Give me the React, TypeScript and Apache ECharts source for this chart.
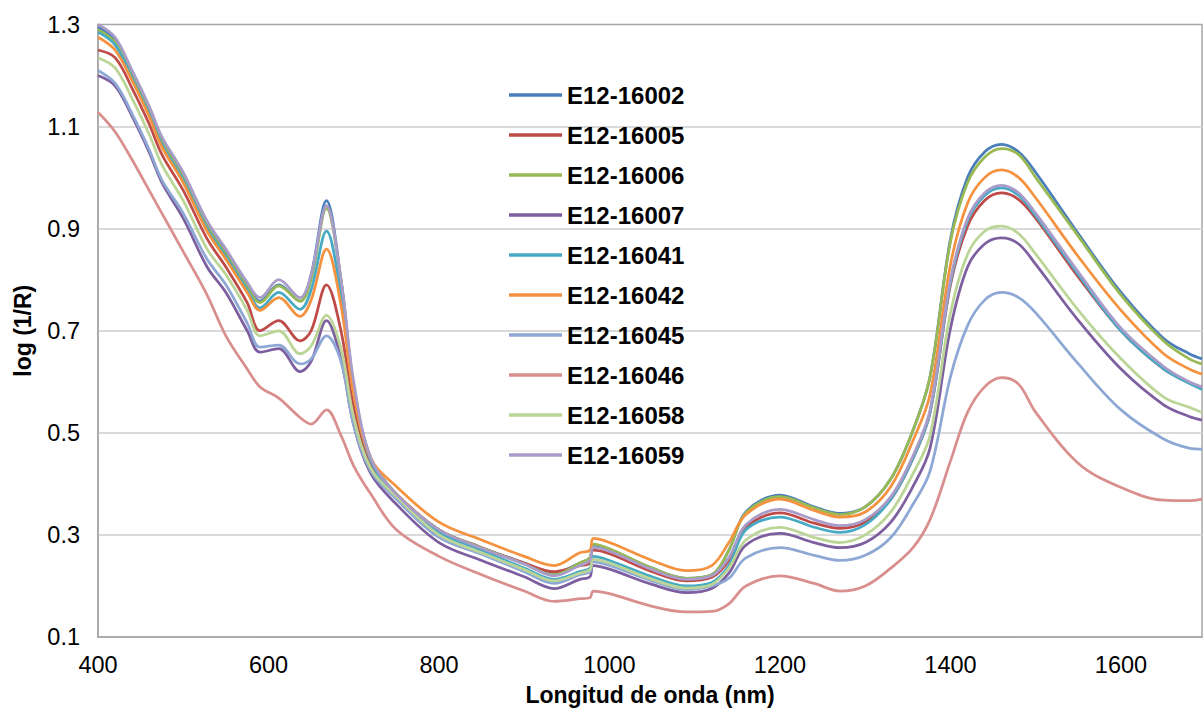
import React, { useEffect, useRef } from "react";
import * as echarts from "echarts";

const wavelengths = [400, 420, 440, 460, 475, 500, 528, 550, 575, 590, 612, 637, 650, 668, 685, 700, 720,
  750, 800, 850, 900, 935, 965, 977, 981, 1000, 1050, 1090, 1120,
  1140, 1160, 1200, 1240, 1270, 1300, 1330, 1356, 1376, 1400, 1420, 1440, 1460, 1480, 1500, 1550, 1600, 1650, 1680, 1695];

const sampleNames = ["E12-16002", "E12-16005", "E12-16006", "E12-16007", "E12-16041", "E12-16042", "E12-16045", "E12-16046", "E12-16058", "E12-16059"];
const sampleColors = ["#4A7EBB", "#BE4B48", "#98B954", "#7D5FA0", "#46AAC5", "#F59240", "#8EA8D5", "#D88F8D", "#BBD596", "#AA9CC8"];

const s16002 = [1.295, 1.27, 1.205, 1.135, 1.075, 1.005, 0.91, 0.855, 0.79, 0.758, 0.79, 0.758, 0.81, 0.955, 0.80, 0.59, 0.45,
  0.38, 0.31, 0.275, 0.245, 0.225, 0.245, 0.255, 0.28, 0.272, 0.235, 0.215, 0.222,
  0.27, 0.345, 0.378, 0.355, 0.342, 0.355, 0.41, 0.505, 0.61, 0.88, 1.0, 1.05, 1.065, 1.05, 1.01, 0.89, 0.775, 0.685, 0.655, 0.645];
const s16005 = [1.25, 1.235, 1.175, 1.105, 1.045, 0.975, 0.88, 0.825, 0.755, 0.70, 0.72, 0.68, 0.70, 0.79, 0.70, 0.55, 0.44,
  0.38, 0.31, 0.275, 0.245, 0.228, 0.24, 0.245, 0.27, 0.263, 0.228, 0.21, 0.217,
  0.25, 0.315, 0.343, 0.323, 0.313, 0.325, 0.37, 0.45, 0.54, 0.79, 0.905, 0.955, 0.97, 0.957, 0.92, 0.805, 0.70, 0.625, 0.598, 0.588];
const s16006 = [1.29, 1.265, 1.2, 1.13, 1.07, 1.0, 0.905, 0.85, 0.785, 0.755, 0.788, 0.758, 0.80, 0.94, 0.80, 0.59, 0.45,
  0.38, 0.31, 0.275, 0.243, 0.222, 0.245, 0.255, 0.282, 0.273, 0.235, 0.215, 0.222,
  0.27, 0.343, 0.375, 0.353, 0.34, 0.355, 0.41, 0.505, 0.61, 0.875, 0.99, 1.04, 1.057, 1.045, 1.0, 0.885, 0.77, 0.68, 0.645, 0.635];
const s16007 = [1.20, 1.18, 1.12, 1.05, 0.99, 0.92, 0.825, 0.775, 0.70, 0.658, 0.665, 0.62, 0.64, 0.72, 0.645, 0.515, 0.42,
  0.36, 0.285, 0.25, 0.218, 0.195, 0.213, 0.218, 0.24, 0.233, 0.203, 0.187, 0.195,
  0.225, 0.28, 0.303, 0.285, 0.275, 0.285, 0.325, 0.395, 0.47, 0.705, 0.825, 0.87, 0.882, 0.87, 0.83, 0.72, 0.625, 0.555, 0.532, 0.525];
const s16041 = [1.285, 1.26, 1.195, 1.125, 1.065, 0.995, 0.9, 0.845, 0.78, 0.745, 0.775, 0.742, 0.78, 0.895, 0.77, 0.58, 0.445,
  0.375, 0.305, 0.27, 0.235, 0.213, 0.228, 0.235, 0.258, 0.25, 0.218, 0.2, 0.207,
  0.24, 0.31, 0.335, 0.315, 0.305, 0.32, 0.37, 0.45, 0.54, 0.795, 0.915, 0.965, 0.98, 0.965, 0.925, 0.81, 0.70, 0.625, 0.597, 0.585];
const s16042 = [1.275, 1.25, 1.19, 1.12, 1.06, 0.99, 0.895, 0.84, 0.775, 0.74, 0.765, 0.728, 0.76, 0.86, 0.75, 0.575, 0.45,
  0.395, 0.325, 0.29, 0.258, 0.24, 0.265, 0.27, 0.293, 0.285, 0.25, 0.23, 0.24,
  0.285, 0.34, 0.37, 0.348, 0.335, 0.345, 0.395, 0.485, 0.575, 0.83, 0.95, 1.0, 1.015, 1.0, 0.96, 0.845, 0.74, 0.655, 0.625, 0.615];
const s16045 = [1.21, 1.185, 1.125, 1.055, 0.995, 0.93, 0.84, 0.79, 0.715, 0.668, 0.672, 0.635, 0.645, 0.69, 0.64, 0.515, 0.425,
  0.37, 0.295, 0.262, 0.228, 0.205, 0.222, 0.228, 0.247, 0.24, 0.21, 0.193, 0.2,
  0.215, 0.255, 0.275, 0.26, 0.25, 0.26, 0.295, 0.36, 0.425, 0.61, 0.71, 0.76, 0.775, 0.765, 0.735, 0.635, 0.545, 0.488, 0.47, 0.468];
const s16046 = [1.128, 1.09, 1.035, 0.975, 0.93, 0.855, 0.77, 0.69, 0.625, 0.59, 0.568, 0.53, 0.517, 0.545, 0.495, 0.435, 0.38,
  0.31, 0.258, 0.222, 0.19, 0.17, 0.175, 0.177, 0.19, 0.185, 0.16, 0.149, 0.15,
  0.165, 0.2, 0.22, 0.205, 0.19, 0.2, 0.235, 0.275, 0.33, 0.445, 0.54, 0.59, 0.608, 0.595, 0.54, 0.44, 0.393, 0.368, 0.367, 0.37];
const s16058 = [1.235, 1.215, 1.155, 1.085, 1.025, 0.955, 0.86, 0.81, 0.74, 0.69, 0.70, 0.655, 0.67, 0.73, 0.665, 0.53, 0.43,
  0.375, 0.30, 0.265, 0.232, 0.21, 0.225, 0.232, 0.252, 0.245, 0.213, 0.196, 0.203,
  0.235, 0.29, 0.315, 0.295, 0.285, 0.3, 0.345, 0.42, 0.495, 0.735, 0.85, 0.895, 0.905, 0.89, 0.85, 0.74, 0.645, 0.57, 0.55, 0.54];
const s16059 = [1.30, 1.275, 1.21, 1.14, 1.08, 1.01, 0.915, 0.86, 0.795, 0.765, 0.80, 0.765, 0.81, 0.945, 0.80, 0.60, 0.45,
  0.38, 0.31, 0.274, 0.243, 0.22, 0.24, 0.25, 0.275, 0.268, 0.232, 0.213, 0.22,
  0.255, 0.32, 0.35, 0.33, 0.318, 0.33, 0.375, 0.455, 0.545, 0.80, 0.92, 0.97, 0.985, 0.97, 0.93, 0.815, 0.705, 0.63, 0.60, 0.59];

const seriesValues = [s16002, s16005, s16006, s16007, s16041, s16042, s16045, s16046, s16058, s16059];

const FONT = "'Liberation Sans', Arial, sans-serif";

export default function App() {
  const ref = useRef<HTMLDivElement>(null);
  useEffect(() => {
    if (!ref.current) return;
    const chart = echarts.init(ref.current, null, { renderer: "svg" });
    chart.setOption({
      animation: false,
      backgroundColor: "#ffffff",
      grid: { left: 98, right: 2, top: 24.5, bottom: 76, show: true, borderColor: "#A6A6A6", borderWidth: 1.5 },
      legend: {
        orient: "vertical",
        left: 509,
        top: 83,
        padding: 0,
        icon: "rect",
        itemWidth: 53,
        itemHeight: 3.5,
        itemGap: 16,
        textStyle: { fontFamily: FONT, fontSize: 24, fontWeight: "bold", color: "#000", lineHeight: 24 },
        data: sampleNames,
      },
      xAxis: {
        type: "value",
        min: 400,
        max: 1695,
        interval: 200,
        name: "Longitud de onda (nm)",
        nameLocation: "middle",
        nameGap: 46,
        nameTextStyle: { fontFamily: FONT, fontSize: 23, fontWeight: "bold", color: "#000" },
        axisLine: { show: true, lineStyle: { color: "#A6A6A6", width: 1.5 } },
        axisTick: { show: false },
        axisLabel: { fontFamily: FONT, fontSize: 23.5, color: "#000", margin: 16, showMaxLabel: false, formatter: (v: number) => String(v) },
        splitLine: { show: false },
      },
      yAxis: {
        type: "value",
        min: 0.1,
        max: 1.3,
        interval: 0.2,
        name: "log (1/R)",
        nameLocation: "middle",
        nameGap: 64,
        nameTextStyle: { fontFamily: FONT, fontSize: 23, fontWeight: "bold", color: "#000" },
        axisLine: { show: true, lineStyle: { color: "#A6A6A6", width: 1.5 } },
        axisTick: { show: false },
        axisLabel: { fontFamily: FONT, fontSize: 23.5, color: "#000", margin: 18, formatter: (v: number) => v.toFixed(1) },
        splitLine: { show: true, showMaxLine: false, showMinLine: false, lineStyle: { color: "#D9D9D9", width: 2 } },
      },
      series: sampleNames.map((name, i) => ({
        name,
        type: "line",
        data: wavelengths.map((w, j) => [w, seriesValues[i][j]]),
        smooth: 0.35,
        showSymbol: false,
        symbol: "none",
        clip: true,
        lineStyle: { color: sampleColors[i], width: 2.75 },
        itemStyle: { color: sampleColors[i] },
      })),
    });
    return () => chart.dispose();
  }, []);
  return <div ref={ref} style={{ position: "absolute", left: 0, top: 0, width: 1204, height: 713 }} />;
}
